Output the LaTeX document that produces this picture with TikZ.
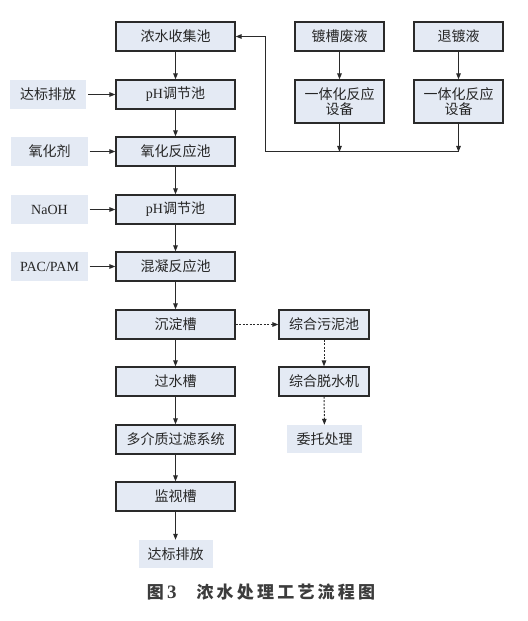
\documentclass[tikz,border=0pt]{standalone}
\usepackage{fontspec}
\setmainfont{Liberation Serif}
\newfontfamily\cjk{Noto Sans CJK SC}
\usetikzlibrary{arrows.meta}
\definecolor{boxfill}{HTML}{E4EAF4}
\definecolor{boxline}{HTML}{2A2A2A}
\definecolor{txt}{HTML}{262626}
\tikzset{
  mainbox/.style={draw=boxline, line width=1.2bp, fill=boxfill, minimum width=119bp, minimum height=29bp, inner sep=0pt, text=txt, font=\fontsize{14bp}{16bp}\selectfont\cjk, align=center},
  sidebox/.style={mainbox, minimum width=89bp},
  feedbox/.style={fill=boxfill, minimum width=76bp, minimum height=29bp, inner sep=0pt, text=txt, font=\fontsize{14bp}{16bp}\selectfont\cjk},
  flow/.style={draw=boxline, line width=1bp, -{Triangle[length=6bp,width=4.5bp]}},
  dflow/.style={flow, dashed, dash pattern=on 2bp off 1.5bp}
}
\newcommand{\cs}{\hspace{3.2bp}}
\begin{document}
\begin{tikzpicture}[x=1bp,y=-1bp]
\useasboundingbox (0,0) rectangle (528,621);
% main column
\node[mainbox] (m1) at (175.5,36.5) {浓水收集池};
\node[mainbox] (m2) at (175.5,94.5) {{\rmfamily pH}调节池};
\node[mainbox] (m3) at (175.5,151.5) {氧化反应池};
\node[mainbox] (m4) at (175.5,209.5) {{\rmfamily pH}调节池};
\node[mainbox] (m5) at (175.5,266.5) {混凝反应池};
\node[mainbox] (m6) at (175.5,324.5) {沉淀槽};
\node[mainbox] (m7) at (175.5,381.5) {过水槽};
\node[mainbox] (m8) at (175.5,439.5) {多介质过滤系统};
\node[mainbox] (m9) at (175.5,496.5) {监视槽};
\node[feedbox, minimum width=74bp, minimum height=28bp] (out) at (175.5,554) {达标排放};
% feeds
\node[feedbox] (f1) at (48,94.5) {达标排放};
\node[feedbox] (f2) at (49.5,151.5) {氧化剂};
\node[feedbox] (f3) at (49.5,209.5) {\rmfamily NaOH};
\node[feedbox] (f4) at (49.5,266.5) {\rmfamily PAC/PAM};
% right top
\node[sidebox] (r1) at (339.5,36.5) {镀槽废液};
\node[sidebox] (r2) at (458.5,36.5) {退镀液};
\node[sidebox, minimum height=43bp, font=\fontsize{14bp}{15bp}\selectfont\cjk] (r3) at (339.5,101.5) {一体化反应\\设备};
\node[sidebox, minimum height=43bp, font=\fontsize{14bp}{15bp}\selectfont\cjk] (r4) at (458.5,101.5) {一体化反应\\设备};
\coordinate (j1) at (339.5,152);
\coordinate (j2) at (458.5,152);
\coordinate (jl) at (265,152);
\coordinate (jt) at (265,36.5);
% sludge
\node[sidebox, minimum width=90bp] (s1) at (324,324.5) {综合污泥池};
\node[sidebox, minimum width=90bp] (s2) at (324,381.5) {综合脱水机};
\node[feedbox, minimum width=75bp, minimum height=28bp] (s3) at (324.5,439) {委托处理};
% caption
\node[text=txt!90, font=\fontsize{17bp}{19bp}\selectfont\cjk\bfseries] (cap) at (261,592) {图\cs{\rmfamily\bfseries\fontsize{19bp}{19bp}\selectfont 3}\hspace{20bp}浓\cs 水\cs 处\cs 理\cs 工\cs 艺\cs 流\cs 程\cs 图};
% connectors
\draw[flow] (m1) -- (m2);
\draw[flow] (m2) -- (m3);
\draw[flow] (m3) -- (m4);
\draw[flow] (m4) -- (m5);
\draw[flow] (m5) -- (m6);
\draw[flow] (m6) -- (m7);
\draw[flow] (m7) -- (m8);
\draw[flow] (m8) -- (m9);
\draw[flow] (m9) -- (out);
\draw[flow] (f1.east) ++(2bp,0) -- (m2.west);
\draw[flow] (f2.east) ++(2bp,0) -- (m3.west);
\draw[flow] (f3.east) ++(2bp,0) -- (m4.west);
\draw[flow] (f4.east) ++(2bp,0) -- (m5.west);
\draw[flow] (r1) -- (r3);
\draw[flow] (r2) -- (r4);
\draw[flow] (r3) -- (j1);
\draw[flow] (r4) -- (j2);
\draw[flow] (j2) -- (jl) -- (jt) -- (m1.east);
\draw[dflow] (m6) -- (s1);
\draw[dflow] (s1) -- (s2);
\draw[dflow] (s2) -- (s3);
\end{tikzpicture}
\end{document}
